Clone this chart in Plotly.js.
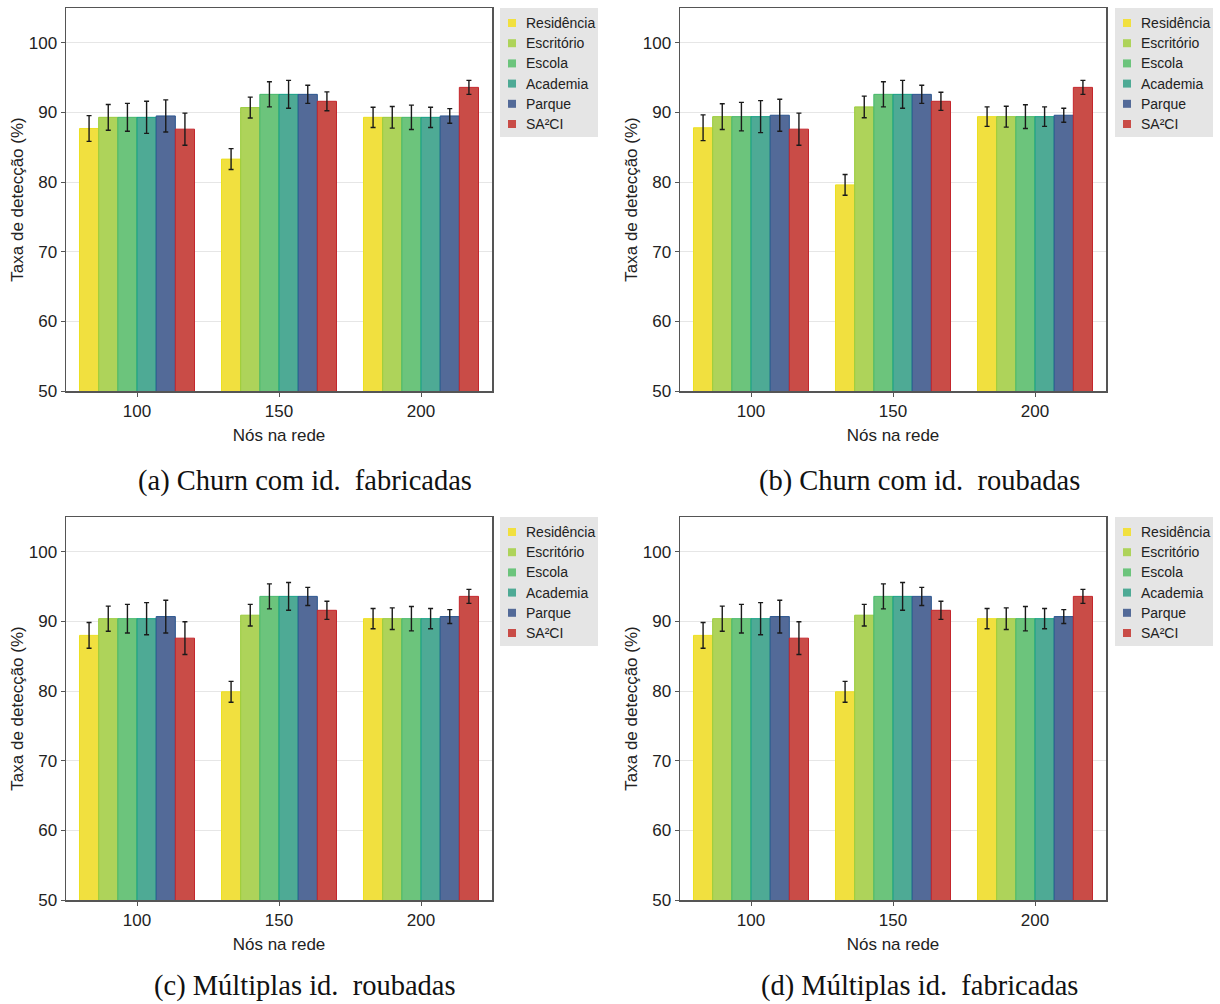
<!DOCTYPE html>
<html>
<head>
<meta charset="utf-8">
<script src="https://cdn.plot.ly/plotly-3.0.1.min.js"></script>
<style>html,body{margin:0;padding:0;background:#fff;}#chart{width:1220px;height:1004px;}</style>
</head>
<body>
<div id="chart"></div>
<script>
// ---- data ----
const categorias = ['100', '150', '200'];
const series = ['Residência', 'Escritório', 'Escola', 'Academia', 'Parque', 'SA²CI'];
const legendas = ['(a) Churn com id.&nbsp; fabricadas', '(b) Churn com id.&nbsp; roubadas', '(c) Múltiplas id.&nbsp; roubadas', '(d) Múltiplas id.&nbsp; fabricadas'];
const tituloX = 'Nós na rede';
const tituloY = 'Taxa de detecção (%)';
const yTicks = [50, 60, 70, 80, 90, 100];

// values per series: [100, 150, 200]
const valoresA = [
  [87.7, 83.3, 89.3],
  [89.3, 90.7, 89.3],
  [89.3, 92.6, 89.3],
  [89.3, 92.6, 89.3],
  [89.5, 92.6, 89.5],
  [87.6, 91.6, 93.6]
];
const errosA = [
  [1.85, 1.5, 1.45],
  [1.85, 1.5, 1.55],
  [2.0, 1.8, 1.75],
  [2.3, 2.0, 1.45],
  [2.3, 1.3, 1.05],
  [2.3, 1.35, 1.0]
];
const valoresB = [
  [87.8, 79.6, 89.4],
  [89.4, 90.8, 89.4],
  [89.4, 92.6, 89.4],
  [89.4, 92.6, 89.4],
  [89.6, 92.6, 89.6],
  [87.6, 91.6, 93.6]
];
const errosB = [
  [1.85, 1.5, 1.4],
  [1.85, 1.55, 1.5],
  [2.05, 1.8, 1.7],
  [2.3, 2.0, 1.4],
  [2.3, 1.3, 1.0],
  [2.3, 1.3, 1.0]
];
const valoresC = [
  [88.0, 79.9, 90.4],
  [90.4, 90.9, 90.4],
  [90.4, 93.6, 90.4],
  [90.4, 93.6, 90.4],
  [90.7, 93.6, 90.7],
  [87.6, 91.6, 93.6]
];
const errosC = [
  [1.85, 1.5, 1.45],
  [1.8, 1.55, 1.55],
  [2.05, 1.8, 1.75],
  [2.3, 2.0, 1.45],
  [2.35, 1.3, 1.0],
  [2.35, 1.3, 1.0]
];
const valoresD = [
  [88.0, 79.9, 90.4],
  [90.4, 90.9, 90.4],
  [90.4, 93.6, 90.4],
  [90.4, 93.6, 90.4],
  [90.7, 93.6, 90.7],
  [87.6, 91.6, 93.6]
];
const errosD = [
  [1.85, 1.5, 1.45],
  [1.8, 1.55, 1.55],
  [2.05, 1.8, 1.75],
  [2.3, 2.0, 1.45],
  [2.35, 1.3, 1.0],
  [2.35, 1.3, 1.0]
];

// ---- styles ----
const coresPreench = ['#f1e03f', '#aed35a', '#6cc47c', '#4eaa95', '#536a98', '#c94c47'];
const coresBorda = ['#ece020', '#9acb3c', '#45b86a', '#15a085', '#2a558f', '#c4262c'];

const paineis = [
  {v: valoresA, e: errosA, xa: 'x', ya: 'y'},
  {v: valoresB, e: errosB, xa: 'x2', ya: 'y2'},
  {v: valoresC, e: errosC, xa: 'x3', ya: 'y3'},
  {v: valoresD, e: errosD, xa: 'x4', ya: 'y4'}
];

const traces = [];
paineis.forEach(p => {
  series.forEach((nome, i) => {
    traces.push({
      type: 'bar',
      name: nome,
      x: categorias,
      y: p.v[i],
      xaxis: p.xa,
      yaxis: p.ya,
      showlegend: false,
      marker: {color: coresPreench[i], line: {color: coresBorda[i], width: 1}},
      error_y: {type: 'data', array: p.e[i], visible: true, color: '#1a1a1a', thickness: 1.4, width: 2.5},
      hoverinfo: 'x+y+name'
    });
  });
});

const W = 1220, H = 1004;
function px(x) { return x / W; }
function py(y) { return 1 - y / H; }

const colX = [[66, 492], [680, 1106]];
const rowY = [[8, 391], [517, 900]];
const fonte = 'Liberation Sans, Arial, sans-serif';

function eixoX(dom, anchor) {
  return {
    domain: [px(dom[0]), px(dom[1])], anchor: anchor,
    type: 'category', range: [-0.5, 2.5],
    showline: true, mirror: true, linecolor: '#555', linewidth: 1.5,
    ticks: 'outside', ticklen: 4, tickcolor: '#555',
    tickfont: {family: fonte, size: 17, color: '#222'},
    title: {text: tituloX, font: {family: fonte, size: 17, color: '#222'}, standoff: 9},
    showgrid: false, zeroline: false, fixedrange: true, automargin: false
  };
}
function eixoY(dom, anchor) {
  return {
    domain: [py(dom[1]), py(dom[0])], anchor: anchor,
    range: [50, 105], tickvals: yTicks,
    showline: true, mirror: true, linecolor: '#555', linewidth: 1.5,
    ticks: 'outside', ticklen: 4, tickcolor: '#555',
    tickfont: {family: fonte, size: 17, color: '#222'},
    title: {text: tituloY, font: {family: fonte, size: 17, color: '#222'}, standoff: 1},
    showgrid: true, gridcolor: '#e6e6e6', gridwidth: 1, zeroline: false, fixedrange: true, automargin: false
  };
}

// custom legends (one per panel), positioned in pixel space of the paper
const shapes = [];
const annotations = [];
const legPos = [[500, 8], [1115, 8], [500, 517], [1115, 517]];
legPos.forEach(([lx, ly]) => {
  shapes.push({type: 'rect', xref: 'paper', yref: 'paper', x0: px(lx), x1: px(lx + 98), y0: py(ly + 129), y1: py(ly),
    fillcolor: '#e5e5e5', line: {width: 0}, layer: 'below'});
  series.forEach((nome, i) => {
    const cy = ly + 15 + 20.2 * i;
    shapes.push({type: 'rect', xref: 'paper', yref: 'paper', x0: px(lx + 8), x1: px(lx + 16), y0: py(cy + 4), y1: py(cy - 4),
      fillcolor: coresPreench[i], line: {width: 0}});
    annotations.push({text: nome, xref: 'paper', yref: 'paper', x: px(lx + 24), y: py(cy), xanchor: 'left', yanchor: 'middle',
      showarrow: false, font: {family: fonte, size: 14, color: '#222'}});
  });
});
[[305, 481, 'middle'], [920, 481, 'middle'], [305, 1003, 'bottom'], [920, 1003, 'bottom']].forEach(([cx, cy, ya], k) => {
  annotations.push({text: legendas[k], xref: 'paper', yref: 'paper', x: px(cx), y: py(cy), xanchor: 'center', yanchor: ya,
    borderpad: 0, showarrow: false, font: {family: 'Liberation Serif, Times New Roman, serif', size: 28.5, color: '#111'}});
});

const layout = {
  width: W, height: H,
  margin: {l: 0, r: 0, t: 0, b: 0, autoexpand: false},
  paper_bgcolor: '#fff', plot_bgcolor: '#fff',
  barmode: 'group', bargap: 0.19, bargroupgap: 0,
  showlegend: false,
  xaxis: eixoX(colX[0], 'y'), yaxis: eixoY(rowY[0], 'x'),
  xaxis2: eixoX(colX[1], 'y2'), yaxis2: eixoY(rowY[0], 'x2'),
  xaxis3: eixoX(colX[0], 'y3'), yaxis3: eixoY(rowY[1], 'x3'),
  xaxis4: eixoX(colX[1], 'y4'), yaxis4: eixoY(rowY[1], 'x4'),
  shapes: shapes,
  annotations: annotations
};

Plotly.newPlot('chart', traces, layout, {displayModeBar: false, staticPlot: true});
</script>
</body>
</html>
